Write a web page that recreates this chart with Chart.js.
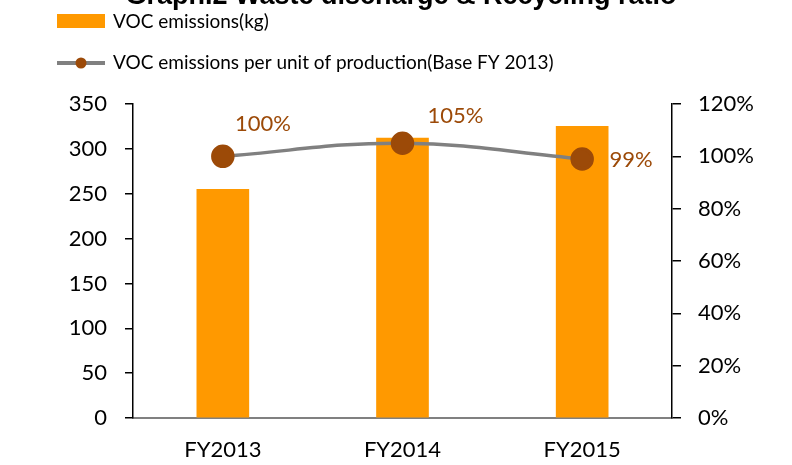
<!DOCTYPE html>
<html>
<head>
<meta charset="utf-8">
<script src="https://cdn.jsdelivr.net/npm/chart.js@4"></script>
<style>
  html, body { margin: 0; padding: 0; background: #fff; }
  #wrap { width: 792px; height: 465px; position: relative; }
</style>
</head>
<body>
<div id="wrap"><canvas id="chart"></canvas></div>
<script>
const categories = ['FY2013', 'FY2014', 'FY2015'];
const vocEmissions = [255, 312, 325];          // kg
const vocPerUnit = [100, 105, 99];            // % of FY2013
const leftTicks = { min: 0, max: 350, step: 50 };
const rightTicks = { min: 0, max: 120, step: 20 };

const titleText = 'Graph.2 Waste discharge & Recycling ratio';
const fontFamily = 'Lato, "Open Sans", sans-serif';
const brown = '#9C4A08';
const orange = '#FF9900';
const gray = '#808080';

// label offsets from each point, like Excel's manual label placement
const labelOffsets = [[40, -32], [53, -27], [49, 1]];

// title sits mostly above the page edge, only its bottom shows
const cutTitle = {
    id: 'cutTitle',
    afterDraw(chart) {
        const ctx = chart.ctx;
        ctx.save();
        ctx.font = 'bold 27px "Liberation Sans", Arial, sans-serif';
        ctx.fillStyle = '#000';
        ctx.textAlign = 'center';
        ctx.textBaseline = 'alphabetic';
        ctx.fillText(titleText, 401, 4);
        ctx.restore();
    }
};

const sideLegend = {
    id: 'sideLegend',
    afterDraw(chart) {
        const ctx = chart.ctx;
        const ds = chart.data.datasets;
        ctx.save();
        ctx.font = '19px ' + fontFamily;
        ctx.textBaseline = 'middle';
        ctx.textAlign = 'left';
        // bar item
        ctx.fillStyle = ds[1].backgroundColor;
        ctx.fillRect(57, 14, 48, 14);
        ctx.fillStyle = '#000';
        ctx.fillText(ds[1].label, 113, 22);
        // line item
        ctx.strokeStyle = ds[0].borderColor;
        ctx.lineWidth = 4;
        ctx.beginPath();
        ctx.moveTo(57, 63);
        ctx.lineTo(105, 63);
        ctx.stroke();
        ctx.fillStyle = ds[0].pointBackgroundColor;
        ctx.beginPath();
        ctx.arc(81, 63, 5.5, 0, Math.PI * 2);
        ctx.fill();
        ctx.fillStyle = '#000';
        ctx.fillText(ds[0].label, 113, 63);
        ctx.restore();
    }
};

const pointLabels = {
    id: 'pointLabels',
    afterDatasetsDraw(chart) {
        const ctx = chart.ctx;
        const meta = chart.getDatasetMeta(0);
        ctx.save();
        ctx.font = '22px ' + fontFamily;
        ctx.fillStyle = brown;
        ctx.textAlign = 'center';
        ctx.textBaseline = 'middle';
        meta.data.forEach(function(pt, i) {
            const off = labelOffsets[i];
            ctx.fillText(vocPerUnit[i] + '%', pt.x + off[0], pt.y + off[1]);
        });
        ctx.restore();
    }
};

const tickFont = { family: fontFamily, size: 22 };

new Chart(document.getElementById('chart'), {
    data: {
        labels: categories,
        datasets: [
            {
                type: 'line',
                label: 'VOC emissions per unit of production(Base FY 2013)',
                data: vocPerUnit,
                yAxisID: 'y1',
                borderColor: gray,
                borderWidth: 3.5,
                tension: 0.4,
                pointRadius: 10,
                pointHoverRadius: 10,
                pointBackgroundColor: brown,
                pointBorderColor: brown,
                order: 1
            },
            {
                type: 'bar',
                label: 'VOC emissions(kg)',
                data: vocEmissions,
                yAxisID: 'y',
                backgroundColor: orange,
                barThickness: 52,
                order: 2
            }
        ]
    },
    options: {
        responsive: true,
        maintainAspectRatio: false,
        animation: false,
        layout: { padding: { top: 104, left: 0, right: 0, bottom: 0 } },
        plugins: {
            legend: { display: false },
            tooltip: { enabled: false }
        },
        scales: {
            x: {
                grid: { display: false, drawTicks: false },
                border: { color: gray, width: 2 },
                ticks: { font: tickFont, color: '#000', padding: 19 },
                afterFit(scale) { scale.height = 47; }
            },
            y: {
                position: 'left',
                min: leftTicks.min,
                max: leftTicks.max,
                grid: { drawOnChartArea: false, drawTicks: true, tickLength: 8, color: '#000', lineWidth: 1.5 },
                border: { color: '#000', width: 1.5 },
                ticks: { stepSize: leftTicks.step, font: tickFont, color: '#000', padding: 18 },
                afterFit(scale) { scale.width = 133; }
            },
            y1: {
                position: 'right',
                min: rightTicks.min,
                max: rightTicks.max,
                grid: { drawOnChartArea: false, drawTicks: true, tickLength: 9, color: '#000', lineWidth: 1.5 },
                border: { color: '#000', width: 1.5 },
                ticks: {
                    stepSize: rightTicks.step,
                    font: tickFont,
                    color: '#000',
                    padding: 17,
                    callback: function(v) { return v + '%'; }
                },
                afterFit(scale) { scale.width = 120; }
            }
        }
    },
    plugins: [cutTitle, sideLegend, pointLabels]
});
</script>
</body>
</html>
